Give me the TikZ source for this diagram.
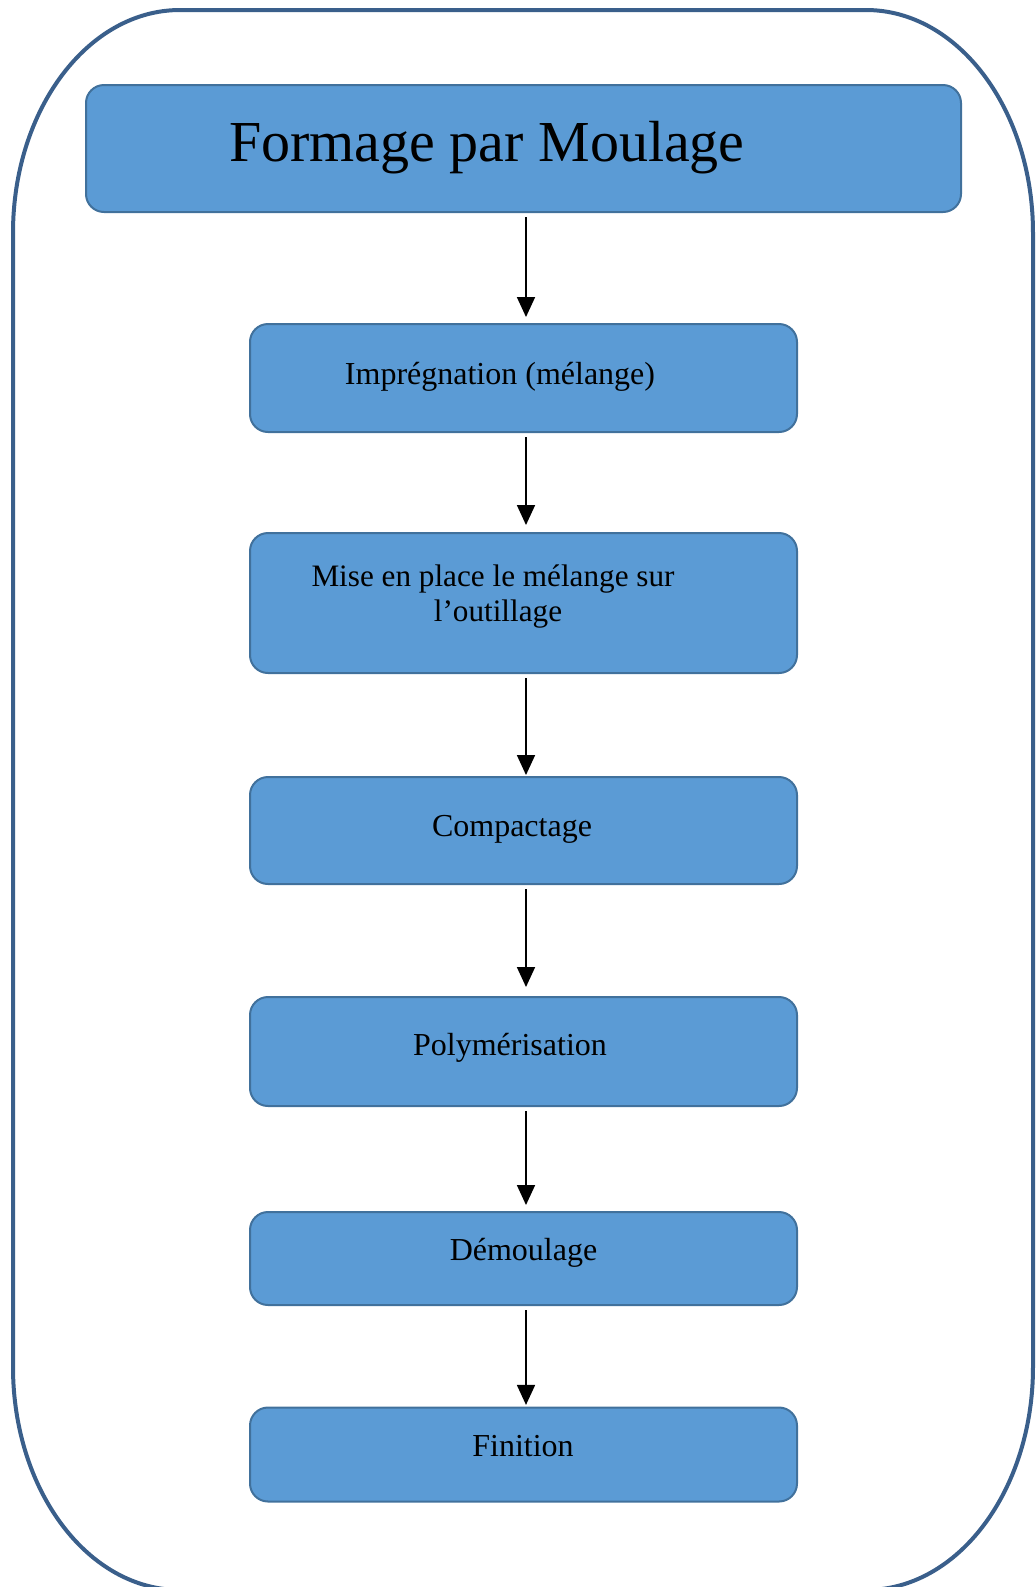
\documentclass[tikz,border=0pt]{standalone}
\usepackage{fontspec}
\setmainfont{Liberation Serif}
\usetikzlibrary{arrows.meta}
\definecolor{framecol}{HTML}{3A5F8B}
\definecolor{boxfill}{HTML}{5B9BD5}
\definecolor{boxline}{HTML}{41719C}
\tikzset{
  stepbox/.style={draw=boxline, fill=boxfill, line width=1pt, rounded corners=9pt,
    minimum width=273.5pt, inner sep=0pt},
  titlebox/.style={stepbox, minimum width=437.5pt, minimum height=63.5pt},
  steptext/.style={font=\fontsize{16}{19}\selectfont, anchor=base, inner sep=0pt},
  flow/.style={-{Triangle[length=10pt,width=9pt]}, line width=0.9pt, shorten <=2pt},
}
\begin{document}
\begin{tikzpicture}[x=0.5pt,y=0.5pt]
\useasboundingbox (0,0) rectangle (1035,-1587);
% outer rounded frame (runs past the lower edge of the page)
\draw[framecol, line width=2pt]
  (13,-233) arc[start angle=180, end angle=90, x radius=167, y radius=223]
  -- (866,-10) arc[start angle=90, end angle=0, x radius=167, y radius=223]
  -- (1033,-1367) arc[start angle=0, end angle=-90, x radius=167, y radius=223]
  -- (180,-1590) arc[start angle=270, end angle=180, x radius=167, y radius=223]
  -- cycle;

% boxes
\node[titlebox] (b1) at (523.5,-148.5) {};
\node[stepbox, minimum height=54pt]   (b2) at (523.5,-378) {};
\node[stepbox, minimum height=70pt]   (b3) at (523.5,-603) {};
\node[stepbox, minimum height=53.5pt] (b4) at (523.5,-830.5) {};
\node[stepbox, minimum height=54.5pt] (b5) at (523.5,-1051.5) {};
\node[stepbox, minimum height=46.5pt] (b6) at (523.5,-1258.5) {};
\node[stepbox, minimum height=47pt]   (b7) at (523.5,-1454.5) {};

% labels
\node[anchor=base, inner sep=0pt, font=\fontsize{29}{34}\selectfont] (t1) at (487,-161) {Formage par Moulage};
\node[steptext] (t2) at (500,-384) {Imprégnation (mélange)};
\node[steptext, font=\fontsize{15.6}{19}\selectfont] (t3a) at (493,-586) {Mise en place le mélange sur};
\node[steptext, font=\fontsize{15.6}{19}\selectfont] (t3b) at (498,-621) {l’outillage};
\node[steptext] (t4) at (512,-836) {Compactage};
\node[steptext] (t5) at (510,-1055) {Polymérisation};
\node[steptext] (t6) at (523.5,-1260) {Démoulage};
\node[steptext] (t7) at (523,-1456) {Finition};

% connectors
\foreach \a/\b/\gap in {b1/b2/3pt, b2/b3/3.5pt, b3/b4/0.5pt, b4/b5/4.5pt, b5/b6/3pt, b6/b7/0.8pt}
  \draw[flow, shorten >=\gap] ([xshift=1.25pt]\a.south) -- ([xshift=1.25pt]\b.north);
\end{tikzpicture}
\end{document}
